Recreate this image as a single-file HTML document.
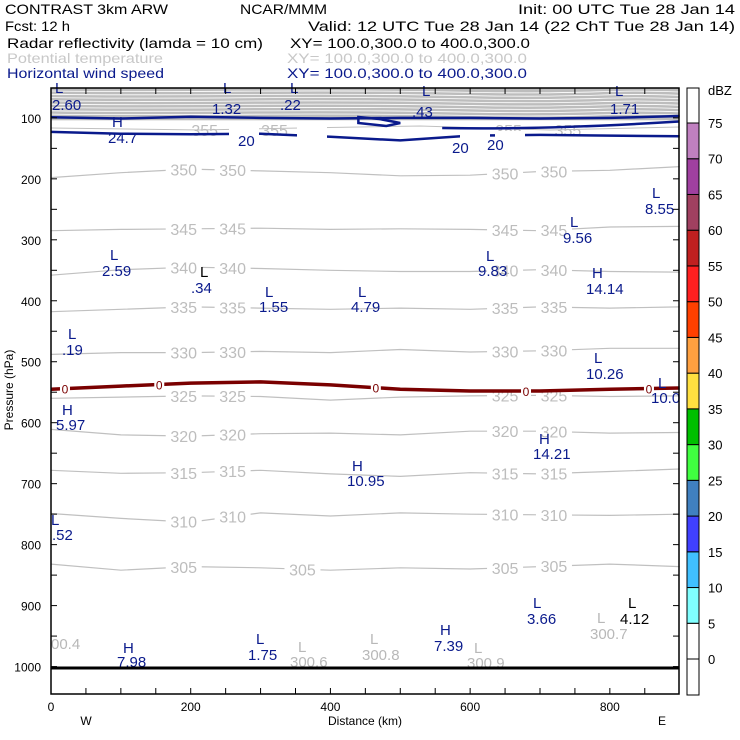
<!DOCTYPE html>
<html><head><meta charset="utf-8"><style>
body{margin:0;background:#fff;width:740px;height:740px;overflow:hidden}
svg{display:block}
text{font-family:"Liberation Sans",sans-serif}
</style></head><body>
<svg id="c" width="740" height="740" xmlns="http://www.w3.org/2000/svg">
<g font-size="14" fill="#000" lengthAdjust="spacingAndGlyphs">
<text x="5" y="14" textLength="163" lengthAdjust="spacingAndGlyphs">CONTRAST  3km ARW</text>
<text x="240" y="14" textLength="87" lengthAdjust="spacingAndGlyphs">NCAR/MMM</text>
<text x="518" y="14" textLength="217" lengthAdjust="spacingAndGlyphs">Init: 00 UTC Tue 28 Jan 14</text>
<text x="5" y="31" textLength="65" lengthAdjust="spacingAndGlyphs">Fcst:  12 h</text>
<text x="308" y="31" textLength="427" lengthAdjust="spacingAndGlyphs">Valid: 12 UTC Tue 28 Jan 14 (22 ChT Tue 28 Jan 14)</text>
<text x="7" y="48" textLength="256" lengthAdjust="spacingAndGlyphs">Radar reflectivity (lamda = 10 cm)</text>
<text x="290" y="48" textLength="240" lengthAdjust="spacingAndGlyphs">XY= 100.0,300.0 to 400.0,300.0</text>
<text x="7" y="63" fill="#c8c8c8" textLength="156" lengthAdjust="spacingAndGlyphs">Potential temperature</text>
<text x="287" y="63" fill="#c8c8c8" textLength="240" lengthAdjust="spacingAndGlyphs">XY= 100.0,300.0 to 400.0,300.0</text>
<text x="7" y="78" fill="#0a1a8c" textLength="157" lengthAdjust="spacingAndGlyphs">Horizontal wind speed</text>
<text x="287" y="78" fill="#0a1a8c" textLength="240" lengthAdjust="spacingAndGlyphs">XY= 100.0,300.0 to 400.0,300.0</text>
</g>
<g id="plot"></g>
<g id="cbar"></g>
</svg>
<script>
const NS="http://www.w3.org/2000/svg";
const xMin=0,xMax=899,pTop=51,pBot=1045;
const L=51,R=679,T=88,B=694;
function X(d){return L+(d-xMin)/(xMax-xMin)*(R-L);}
function Y(p){return T+(p-pTop)/(pBot-pTop)*(B-T);}
const pTicks=[100,200,300,400,500,600,700,800,900,1000];
const dTicks=[0,200,400,600,800];
const dSample=[0,100,200,300,400,500,600,700,800,900];
const thetaLevels=[350,345,340,335,330,325,320,315,310,305];
const thetaP=[
[198,190,184,187,190,195,194,188,186,180],
[285,283,282,281,283,282,283,285,279,278],
[358,349,345,347,350,352,352,349,352,353],
[418,414,410,412,414,412,414,410,412,410],
[488,485,485,483,485,480,484,482,478,478],
[560,558,556,557,563,558,556,555,557,556],
[611,620,622,618,617,620,614,614,617,616],
[678,683,682,678,684,688,682,684,680,676],
[749,757,763,748,753,748,750,751,752,750],
[832,842,836,838,842,838,840,836,832,836]];
const thetaLabelD=[[190,260],[190,260],[190,260],[190,260],[190,260],[190,260],[190,260],[190,260],[190,260],[190,360]];
const refP=[545,540,535,533,538,545,548,548,545,543];
const windA=[99,101,98,100,101,100,100,101,100,97];
const windB=[123,126,127,126,131,137,129,128,129,130];

const g=document.getElementById('plot');
function el(tag,attrs,parent){const e=document.createElementNS(NS,tag);for(const k in attrs)e.setAttribute(k,attrs[k]);(parent||g).appendChild(e);return e;}
function txt(x,y,s,fill,size,anchor,parent){const t=el('text',{x:x,y:y,fill:fill,'font-size':size||14,'text-anchor':anchor||'start'},parent);t.textContent=s;return t;}
function path(ps){return ps.map((p,i)=>(i?'L':'M')+X(dSample[i]).toFixed(1)+','+Y(p).toFixed(1)).join(' ');}

const band=el('rect',{x:L,y:T,width:R-L,height:Y(104)-T,fill:'#bdbdbd'});


for(let i=0;i<8;i++){
  const yy=T+3+i*3.3;
  const w=el('path',{d:`M${L},${yy} C200,${yy+2} 300,${yy-2} 450,${yy+1} S600,${yy-2} ${R},${yy+1}`,stroke:'#fff','stroke-width':0.8,fill:'none'});
  
  
}
const c355=el('path',{d:`M${L},128 L200,130 L300,128 L420,126 L550,130 L${R},127`,stroke:'#c0c0c0','stroke-width':1,fill:'none'});



thetaP.forEach((ps,i)=>{
  const p=el('path',{d:path(ps),stroke:'#c0c0c0','stroke-width':1.2,fill:'none'});
  
  
  thetaLabelD[i].concat([650,720]).forEach(d=>{
    const k=Math.min(8,Math.floor(d/100)),f=d/100-k;
    const pp=ps[k]+(ps[k+1]-ps[k])*f;
    el('rect',{x:X(d)-18,y:Y(pp)-7,width:36,height:14,fill:'#fff'});
    const t=txt(X(d),Y(pp)+6,String(thetaLevels[i]),'#bdbdbd',16,'middle');
    
    
  });
});
[[220,'355'],[320,'355'],[655,'355'],[740,'355']].forEach(a=>{
  const t=txt(X(a[0]),136,a[1],'#bdbdbd',16,'middle');
  
  
});

const rp=el('path',{d:path(refP),stroke:'#7a0000','stroke-width':3.5,fill:'none'});


[20,155,465,680,856].forEach(d=>{
  const k=Math.min(8,Math.floor(d/100)),f=d/100-k;const pp=refP[k]+(refP[k+1]-refP[k])*f;
  el('rect',{x:X(d)-5,y:Y(pp)-6,width:10,height:12,fill:'#fff'});
  const t=txt(X(d),Y(pp)+5,'0','#7a0000',12,'middle');
  
  
});

[windA,windB].forEach((w,i)=>{
  const p=el('path',{d:path(w),stroke:'#0a1a8c','stroke-width':2.5,fill:'none'});
  
  
});
const loop=el('path',{d:`M${X(560)},128 Q${X(700)},130 ${X(899)},${Y(106)}`,stroke:'#0a1a8c','stroke-width':2.5,fill:'none'});


const loop2=el('path',{d:`M${X(440)},117 L${X(440)},123 L${X(480)},126 L${X(500)},123 L${X(470)},119 Z`,stroke:'#0a1a8c','stroke-width':2.5,fill:'none'});


[[244,141,'24.7'],[475,148,'20'],[510,145,'20'],[312,139,'20']].forEach(a=>{
  el('rect',{x:a[0]-15,y:a[1]-14,width:30,height:16,fill:'#fff'});
});
const navy='#0a1a8c',gray='#b8b8b8';
const marks=[
[55,93,'L',navy],[52,110,'2.60',navy],[223,93,'L',navy],[212,114,'1.32',navy],[290,93,'L',navy],[280,110,'.22',navy],
[422,96,'L',navy],[412,117,'.43',navy],[615,96,'L',navy],[610,114,'1.71',navy],
[112,127,'H',navy],[108,143,'24.7',navy],[238,146,'20',navy],[452,153,'20',navy],[487,150,'20',navy],
[652,198,'L',navy],[645,214,'8.55',navy],[570,227,'L',navy],[563,243,'9.56',navy],
[110,260,'L',navy],[102,276,'2.59',navy],[486,261,'L',navy],[478,276,'9.83',navy],
[592,278,'H',navy],[586,294,'14.14',navy],[200,277,'L','#000'],[191,293,'.34',navy],
[265,297,'L',navy],[259,312,'1.55',navy],[358,297,'L',navy],[351,312,'4.79',navy],
[68,339,'L',navy],[62,355,'.19',navy],[594,363,'L',navy],[586,379,'10.26',navy],
[658,388,'L',navy],[651,403,'10.0',navy],[62,415,'H',navy],[56,430,'5.97',navy],
[539,444,'H',navy],[533,459,'14.21',navy],[352,471,'H',navy],[347,486,'10.95',navy],
[51,525,'L',navy],[52,540,'.52',navy],[533,608,'L',navy],[527,624,'3.66',navy],
[628,608,'L','#000'],[620,624,'4.12','#000'],[597,623,'L',gray],[590,639,'300.7',gray],
[51,649,'00.4',gray],[123,653,'H',navy],[117,667,'7.98',navy],[256,644,'L',navy],[248,660,'1.75',navy],
[298,652,'L',gray],[290,667,'300.6',gray],[370,644,'L',gray],[362,660,'300.8',gray],
[440,635,'H',navy],[434,651,'7.39',navy],[474,653,'L',gray],[467,668,'300.9',gray]];
marks.forEach(m=>{
  const t=txt(m[0],m[1],m[2],m[3],15);
  
  
});
const sl=el('line',{x1:L,y1:668,x2:R,y2:668,stroke:'#000','stroke-width':3});


const fr=el('rect',{x:L,y:T,width:R-L,height:B-T,fill:'none',stroke:'#000','stroke-width':1.5});


for(let p=100;p<=1000;p+=50){
  const y=Y(p);el('line',{x1:L,y1:y,x2:L+6,y2:y,stroke:'#000'});el('line',{x1:R-6,y1:y,x2:R,y2:y,stroke:'#000'});
}
pTicks.forEach(p=>{
  const t=txt(L-10,Y(p)+5,String(p),'#000',12,'end');
  
  
});
for(let d=0;d<=899;d+=50){
  const x=X(d);el('line',{x1:x,y1:B,x2:x,y2:B-6,stroke:'#000'});el('line',{x1:x,y1:T,x2:x,y2:T+6,stroke:'#000'});
}
dTicks.forEach(d=>{
  const t=txt(X(d),B+17,String(d),'#000',12,'middle');
  
  
});
const yt=txt(0,0,'Pressure (hPa)','#000',12,'middle');
yt.setAttribute('transform','translate(13,390) rotate(-90)');


const xt=txt(365,725,'Distance (km)','#000',12,'middle');


const w=txt(86,725,'W','#000',12,'middle');
const e=txt(662,725,'E','#000',12,'middle');

const cb=document.getElementById('cbar');
const cbVals=[0,5,10,15,20,25,30,35,40,45,50,55,60,65,70,75];
const cbColors=['#ffffff','#80ffff','#40c0ff','#4040ff','#4080c0','#40ff40','#00c000','#ffe040','#ffa040','#ff4000','#ff2020','#c02020','#a04060','#a040a0','#c080c0','#ffffff'];
function CY(v){return 659-v*(659-123)/75;}
const cx=687,cw=12;
el('rect',{x:cx,y:CY(0),width:cw,height:695-CY(0),fill:'#fff',stroke:'#000'},cb);
cbVals.forEach((v,i)=>{
  const top=i<15?CY(v+5):88;
  const r=el('rect',{x:cx,y:top,width:cw,height:CY(v)-top,fill:cbColors[i],stroke:'#000'},cb);
  
  
  const t=txt(708,CY(v)+5,String(v),'#000',13,'start',cb);
  
  
});
const u=txt(708,95,'dBZ','#000',13,'start',cb);


</script>
</body></html>
